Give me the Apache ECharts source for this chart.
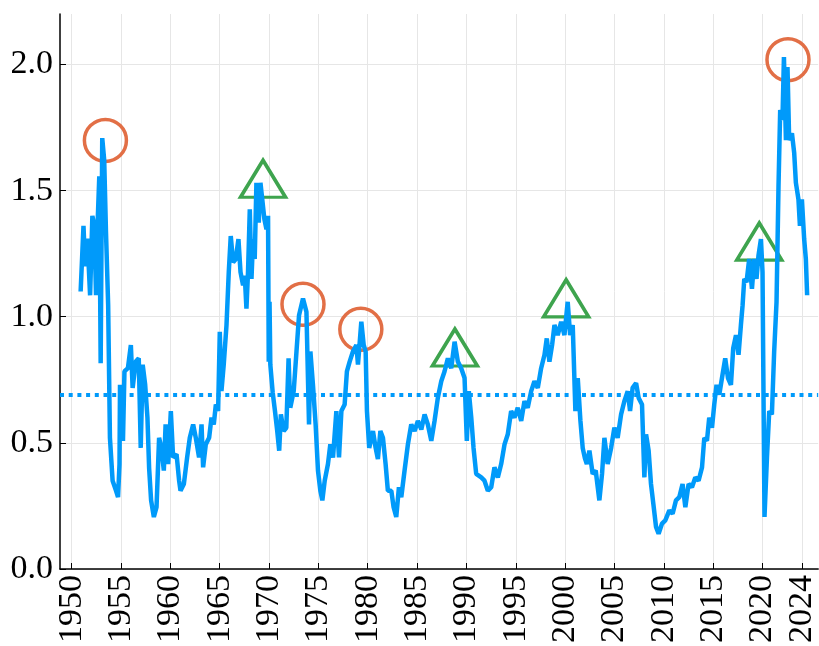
<!DOCTYPE html>
<html>
<head>
<meta charset="utf-8">
<title>ratio</title>
<script src="https://cdn.jsdelivr.net/npm/echarts@6.0.0/dist/echarts.min.js"></script>
<style>
  html, body { margin: 0; padding: 0; background: #fff; }
  #chart { width: 819px; height: 646px; }
</style>
</head>
<body>
<div id="chart"></div>
<script>
'use strict';
// series: year (decimal) and value
const years = [
  1950.91, 1951.2, 1951.37, 1951.6, 1951.87, 1952.1, 1952.3, 1952.47, 1952.6, 1952.8,
  1952.94, 1953.1, 1953.3, 1953.48, 1953.7, 1953.88, 1954.15, 1954.5, 1954.7, 1954.85,
  1954.9, 1955.2, 1955.35, 1955.7, 1956.0, 1956.18, 1956.5, 1956.8, 1957.0, 1957.2,
  1957.45, 1957.68, 1957.85, 1958.05, 1958.33, 1958.6, 1958.86, 1959.1, 1959.34, 1959.52,
  1959.78, 1960.05, 1960.28, 1960.63, 1960.89, 1961.03, 1961.37, 1961.7, 1961.97, 1962.31,
  1962.58, 1962.91, 1963.16, 1963.32, 1963.59, 1963.93, 1964.17, 1964.4, 1964.61, 1964.84,
  1965.01, 1965.18, 1965.41, 1965.69, 1965.92, 1966.12, 1966.36, 1966.63, 1966.9, 1967.11,
  1967.37, 1967.54, 1967.71, 1967.87, 1968.05, 1968.22, 1968.38, 1968.55, 1968.72, 1968.96,
  1969.13, 1969.33, 1969.53, 1969.74, 1969.9, 1969.97, 1970.05, 1970.13, 1970.37, 1970.6,
  1970.83, 1971.03, 1971.2, 1971.48, 1971.75, 1971.98, 1972.15, 1972.5, 1972.78, 1973.04,
  1973.44, 1973.79, 1974.05, 1974.19, 1974.45, 1974.72, 1974.96, 1975.2, 1975.4, 1975.64,
  1975.97, 1976.21, 1976.48, 1976.82, 1977.09, 1977.33, 1977.66, 1977.89, 1978.17, 1978.5,
  1978.85, 1979.01, 1979.35, 1979.59, 1979.79, 1979.92, 1980.15, 1980.53, 1980.8, 1981.03,
  1981.28, 1981.54, 1981.81, 1982.04, 1982.39, 1982.62, 1982.89, 1983.16, 1983.4, 1983.73,
  1984.07, 1984.41, 1984.75, 1985.08, 1985.43, 1985.76, 1986.09, 1986.44, 1986.77, 1987.1,
  1987.45, 1987.78, 1988.12, 1988.46, 1988.8, 1989.13, 1989.47, 1989.81, 1990.04, 1990.24,
  1990.49, 1990.72, 1990.99, 1991.5, 1991.83, 1992.17, 1992.51, 1992.84, 1993.18, 1993.52,
  1993.86, 1994.19, 1994.53, 1994.87, 1995.2, 1995.55, 1995.88, 1996.21, 1996.56, 1996.89,
  1997.23, 1997.57, 1997.91, 1998.14, 1998.41, 1998.68, 1998.92, 1999.25, 1999.6, 1999.93,
  2000.26, 2000.51, 2000.77, 2001.04, 2001.28, 2001.55, 2001.78, 2002.0, 2002.2, 2002.46,
  2002.79, 2003.1, 2003.47, 2003.74, 2003.98, 2004.31, 2004.66, 2004.99, 2005.32, 2005.67,
  2006.0, 2006.34, 2006.58, 2006.84, 2007.19, 2007.45, 2007.79, 2008.03, 2008.2, 2008.46,
  2008.7, 2008.94, 2009.21, 2009.47, 2009.82, 2010.15, 2010.56, 2010.89, 2011.23, 2011.57,
  2011.9, 2012.18, 2012.51, 2012.85, 2013.19, 2013.52, 2013.87, 2014.1, 2014.37, 2014.6,
  2014.88, 2015.11, 2015.34, 2015.62, 2015.89, 2016.22, 2016.5, 2016.8, 2017.03, 2017.31,
  2017.57, 2017.81, 2017.98, 2018.15, 2018.38, 2018.65, 2018.93, 2019.16, 2019.39, 2019.59,
  2019.84, 2020.0, 2020.2, 2020.45, 2020.68, 2020.95, 2021.18, 2021.42, 2021.62, 2021.79,
  2022.02, 2022.17, 2022.37, 2022.53, 2022.7, 2022.98, 2023.21, 2023.38, 2023.64, 2023.79,
  2023.99, 2024.22, 2024.39, 2024.52
];
const values = [
  1.10, 1.36, 1.20, 1.31, 1.085, 1.40, 1.36, 1.085, 1.335, 1.557,
  0.816, 1.708, 1.62, 1.335, 1.045, 0.52, 0.35, 0.31, 0.285, 0.416,
  0.73, 0.508, 0.783, 0.796, 0.888, 0.718, 0.822, 0.835, 0.48, 0.81,
  0.73, 0.60, 0.40, 0.272, 0.206, 0.245, 0.52, 0.48, 0.39, 0.573,
  0.416, 0.626, 0.442, 0.455, 0.35, 0.31, 0.337, 0.442, 0.52, 0.573,
  0.52, 0.442, 0.573, 0.403, 0.494, 0.52, 0.60, 0.573, 0.652, 0.626,
  0.94, 0.705, 0.81, 0.967, 1.177, 1.32, 1.216, 1.229, 1.308, 1.177,
  1.124, 1.163, 1.032, 1.177, 1.426, 1.15, 1.308, 1.229, 1.531, 1.373,
  1.531, 1.537, 1.386, 1.347, 1.40, 0.822, 1.059, 0.81, 0.70, 0.626,
  0.547, 0.469, 0.613, 0.547, 0.56, 0.835, 0.639, 0.705, 0.862, 1.006,
  1.072, 1.019, 0.573, 0.862, 0.73, 0.573, 0.39, 0.31, 0.272, 0.35,
  0.416, 0.494, 0.442, 0.626, 0.442, 0.626, 0.652, 0.783, 0.822, 0.862,
  0.888, 0.81, 0.98, 0.888, 0.862, 0.626, 0.48, 0.547, 0.48, 0.436,
  0.547, 0.52, 0.416, 0.31, 0.31, 0.245, 0.206, 0.324, 0.285, 0.39,
  0.494, 0.573, 0.547, 0.587, 0.553, 0.613, 0.573, 0.508, 0.587, 0.678,
  0.744, 0.783, 0.835, 0.796, 0.901, 0.822, 0.796, 0.757, 0.508, 0.705,
  0.60, 0.48, 0.377, 0.363, 0.35, 0.31, 0.324, 0.403, 0.363, 0.416,
  0.494, 0.534, 0.626, 0.60, 0.639, 0.587, 0.665, 0.639, 0.705, 0.744,
  0.718, 0.796, 0.849, 0.914, 0.822, 0.888, 0.967, 0.927, 0.98, 0.927,
  1.059, 0.927, 0.967, 0.626, 0.757, 0.587, 0.48, 0.44, 0.416, 0.469,
  0.377, 0.39, 0.272, 0.377, 0.52, 0.416, 0.48, 0.56, 0.52, 0.613,
  0.665, 0.705, 0.626, 0.718, 0.737, 0.678, 0.652, 0.363, 0.534, 0.469,
  0.337, 0.258, 0.167, 0.14, 0.18, 0.193, 0.232, 0.219, 0.272, 0.285,
  0.337, 0.245, 0.337, 0.324, 0.363, 0.35, 0.403, 0.52, 0.508, 0.60,
  0.56, 0.652, 0.73, 0.691, 0.757, 0.835, 0.757, 0.73, 0.875, 0.927,
  0.849, 0.967, 1.045, 1.15, 1.137, 1.229, 1.111, 1.229, 1.15, 1.242,
  1.308, 1.177, 0.206, 0.442, 0.626, 0.613, 0.862, 1.059, 1.517, 1.819,
  1.78, 2.029, 1.70, 1.99, 1.70, 1.727, 1.649, 1.531, 1.465, 1.36,
  1.465, 1.308, 1.229, 1.085
];
const meanLevel = 0.695;

// marked peaks (circles) and signal points (triangles)
const circleYears = [1953.42, 1973.44, 1979.30, 2022.58];
const circleValues = [1.699, 1.049, 0.950, 2.019];
const triangleYears = [1969.39, 1988.83, 2000.10, 2019.67];
const triangleValues = [1.547, 0.878, 1.073, 1.298];

const xTicks = [1950, 1955, 1960, 1965, 1970, 1975, 1980, 1985, 1990, 1995, 2000, 2005, 2010, 2015, 2020, 2024];
const yTicks = [0, 0.5, 1.0, 1.5, 2.0];

const zip = (xs, ys) => xs.map((x, i) => [x, ys[i]]);

const font = 'Liberation Serif';
const blue = '#009AFA';
const orange = '#E26F46';
const green = '#3EA44E';

const myChart = echarts.init(document.getElementById('chart'));
myChart.setOption({
  animation: false,
  grid: { left: 60, right: 0, top: 14, bottom: 73 },
  xAxis: {
    type: 'value',
    min: 1948.82,
    max: 2025.64,
    axisLine: { show: true, onZero: false, lineStyle: { color: '#000', width: 1.5 } },
    axisTick: { show: true, inside: true, length: 6, customValues: xTicks, lineStyle: { color: '#000', width: 1 } },
    axisLabel: {
      customValues: xTicks,
      rotate: 90,
      margin: 6,
      fontFamily: font,
      fontSize: 34,
      color: '#000',
      formatter: v => String(v)
    },
    splitLine: { show: true, lineStyle: { color: '#e6e6e6', width: 1 } }
  },
  yAxis: {
    type: 'value',
    min: 0,
    max: 2.2,
    axisLine: { show: true, lineStyle: { color: '#000', width: 1.5 } },
    axisTick: { show: true, inside: true, length: 6, customValues: yTicks, lineStyle: { color: '#000', width: 1 } },
    axisLabel: {
      customValues: yTicks,
      margin: 7,
      fontFamily: font,
      fontSize: 34,
      color: '#000',
      formatter: v => v.toFixed(1)
    },
    splitLine: { show: true, lineStyle: { color: '#e6e6e6', width: 1 } }
  },
  series: [
    {
      type: 'line',
      data: zip(years, values),
      showSymbol: false,
      lineStyle: { color: blue, width: 4.5 },
      markLine: {
        silent: true,
        symbol: ['none', 'none'],
        label: { show: false },
        lineStyle: { color: blue, width: 4, type: [4, 4.7] },
        data: [{ yAxis: meanLevel }]
      }
    },
    {
      type: 'scatter',
      data: zip(circleYears, circleValues),
      symbol: 'circle',
      symbolSize: 42,
      itemStyle: { color: 'rgba(0,0,0,0)', borderColor: orange, borderWidth: 3.5, opacity: 1 }
    },
    {
      type: 'scatter',
      data: zip(triangleYears, triangleValues),
      symbol: 'triangle',
      symbolSize: [45, 37],
      itemStyle: { color: 'rgba(0,0,0,0)', borderColor: green, borderWidth: 3.5, opacity: 1 }
    }
  ]
});
</script>
</body>
</html>
